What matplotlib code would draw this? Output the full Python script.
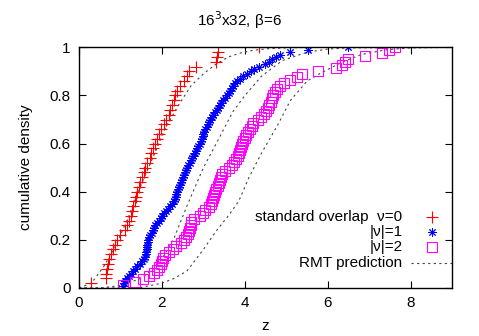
import numpy as np
import matplotlib
matplotlib.use("Agg")
import matplotlib.pyplot as plt

plt.rcParams['font.family'] = ['Liberation Sans', 'DejaVu Sans']

# sorted z values of each sample (cumulative density = rank / N)
z_nu0 = [0.30, 0.64, 0.66, 0.68, 0.70, 0.73, 0.77, 0.81, 0.86, 0.91,
         1.00, 1.10, 1.16, 1.20, 1.25, 1.28, 1.31, 1.34, 1.37, 1.40,
         1.44, 1.48, 1.52, 1.56, 1.60, 1.65, 1.70, 1.74, 1.78, 1.83,
         1.88, 1.92, 1.98, 2.04, 2.10, 2.16, 2.20, 2.24, 2.28, 2.32,
         2.37, 2.44, 2.52, 2.60, 2.66, 2.82, 3.30, 3.32, 3.34, 4.34]

z_nu1 = [1.06, 1.08, 1.12, 1.15, 1.20, 1.25, 1.30, 1.35, 1.40, 1.46,
         1.52, 1.57, 1.60, 1.61, 1.62, 1.63, 1.64, 1.65, 1.66, 1.67,
         1.69, 1.72, 1.75, 1.78, 1.80, 1.83, 1.87, 1.92, 1.97, 2.01,
         2.05, 2.10, 2.15, 2.19, 2.24, 2.28, 2.31, 2.33, 2.35, 2.37,
         2.39, 2.41, 2.43, 2.45, 2.48, 2.50, 2.52, 2.55, 2.58, 2.61,
         2.64, 2.67, 2.70, 2.73, 2.76, 2.79, 2.82, 2.85, 2.88, 2.92,
         2.94, 2.96, 2.98, 3.00, 3.02, 3.05, 3.08, 3.11, 3.14, 3.17,
         3.20, 3.24, 3.28, 3.32, 3.35, 3.39, 3.43, 3.48, 3.53, 3.58,
         3.62, 3.65, 3.68, 3.71, 3.76, 3.82, 3.88, 3.95, 4.05, 4.15,
         4.22, 4.35, 4.48, 4.57, 4.65, 4.75, 4.84, 5.08, 5.52, 6.48]

z_nu2 = [1.06, 1.35, 1.55, 1.68, 1.82, 1.89, 1.94, 1.97, 2.00, 2.02,
         2.08, 2.17, 2.26, 2.35, 2.45, 2.52, 2.57, 2.62, 2.65, 2.67,
         2.69, 2.71, 2.78, 2.92, 2.98, 3.05, 3.13, 3.18, 3.21, 3.24,
         3.26, 3.29, 3.31, 3.34, 3.37, 3.40, 3.43, 3.46, 3.52, 3.62,
         3.68, 3.74, 3.79, 3.83, 3.86, 3.88, 3.91, 3.93, 3.96, 4.00,
         4.03, 4.07, 4.12, 4.16, 4.20, 4.31, 4.40, 4.47, 4.52, 4.56,
         4.59, 4.62, 4.65, 4.68, 4.72, 4.78, 4.85, 4.95, 5.08, 5.25,
         5.37, 5.76, 6.20, 6.34, 6.42, 6.48, 6.89, 7.30, 7.47, 7.62]

# RMT prediction curves
rmt0_z = [0.0, 0.3, 0.6, 0.9, 1.2, 1.5, 1.8, 2.1, 2.4, 2.7, 3.0, 3.3, 3.6, 3.9, 4.2, 4.6, 5.0, 5.5, 9.0]
rmt0_y = [0.0, 0.02, 0.09, 0.18, 0.30, 0.43, 0.55, 0.67, 0.76, 0.84, 0.89, 0.93, 0.96, 0.977, 0.988, 0.995, 0.998, 1.0, 1.0]
rmt1_z = [0.0, 0.5, 1.0, 1.5, 1.8, 2.0, 2.3, 2.6, 3.0, 3.4, 3.7, 4.0, 4.4, 4.9, 5.5, 6.0, 6.5, 9.0]
rmt1_y = [0.0, 0.0, 0.01, 0.04, 0.08, 0.12, 0.21, 0.34, 0.50, 0.63, 0.73, 0.80, 0.88, 0.945, 0.98, 0.993, 0.998, 1.0]
rmt2_z = [0.0, 1.0, 1.5, 2.0, 2.3, 2.6, 3.0, 3.3, 3.6, 3.85, 4.1, 4.4, 4.8, 5.1, 5.5, 5.8, 6.3, 6.8, 7.4, 8.0, 9.0]
rmt2_y = [0.0, 0.0, 0.002, 0.02, 0.04, 0.07, 0.16, 0.235, 0.30, 0.36, 0.46, 0.56, 0.68, 0.78, 0.86, 0.89, 0.935, 0.97, 0.99, 0.998, 1.0]

legend_labels = ["standard overlap  \u03bd=0", "|\u03bd|=1", "|\u03bd|=2", "RMT prediction"]


def cdf(z):
    return np.arange(1, len(z) + 1) / len(z)


fig = plt.figure(figsize=(4.79, 3.36), dpi=100)
ax = fig.add_axes([0.165, 0.143, 0.779, 0.716])

dash = dict(color="#444444", lw=0.8, ls=(0, (2, 3)))
for zz, yy in [(rmt0_z, rmt0_y), (rmt1_z, rmt1_y), (rmt2_z, rmt2_y)]:
    ax.plot(zz, yy, **dash)

ax.plot(z_nu0, cdf(z_nu0), ls="none", marker="+", color="red", ms=8, mew=0.8)
ax.plot(z_nu1, cdf(z_nu1), ls="none", marker=(8, 2, 0), color="blue", ms=6, mew=0.7)
ax.plot(z_nu2, cdf(z_nu2), ls="none", marker="s", color="magenta", ms=7, mew=0.8, fillstyle="none")

ax.set_xlim(0, 9)
ax.set_ylim(0, 1)
ax.set_xticks([0, 2, 4, 6, 8])
ax.set_yticks([0, 0.2, 0.4, 0.6, 0.8, 1])
ax.set_yticklabels(["0", "0.2", "0.4", "0.6", "0.8", "1"])
ax.tick_params(direction="in", length=5, width=0.8, top=True, right=True, labelsize=11, pad=6)
for s in ax.spines.values():
    s.set_linewidth(1.0)

ax.set_xlabel("z", fontsize=11, labelpad=6)
ax.set_ylabel("cumulative density", fontsize=11, labelpad=12)
fig.text(0.5, 0.94, "16$^3$x32, \u03b2=6", ha="center", va="center", fontsize=11)

# legend drawn by hand, gnuplot style (text right-aligned, sample on the right)
ly = [0.297, 0.234, 0.170, 0.104]
tx = 0.867
for lab, yy in zip(legend_labels, ly):
    ax.text(tx, yy, lab, transform=ax.transAxes, ha="right", va="center", fontsize=11)
ax.plot([0.947], [ly[0]], transform=ax.transAxes, marker="+", color="red", ms=8, mew=0.8)
ax.plot([0.947], [ly[1]], transform=ax.transAxes, marker=(8, 2, 0), color="blue", ms=6, mew=0.7)
ax.plot([0.947], [ly[2]], transform=ax.transAxes, marker="s", color="magenta", ms=7, mew=0.8, fillstyle="none")
ax.plot([0.89, 1.0], [ly[3], ly[3]], transform=ax.transAxes, **dash)

fig.savefig("out.png", dpi=100)
plt.close(fig)
